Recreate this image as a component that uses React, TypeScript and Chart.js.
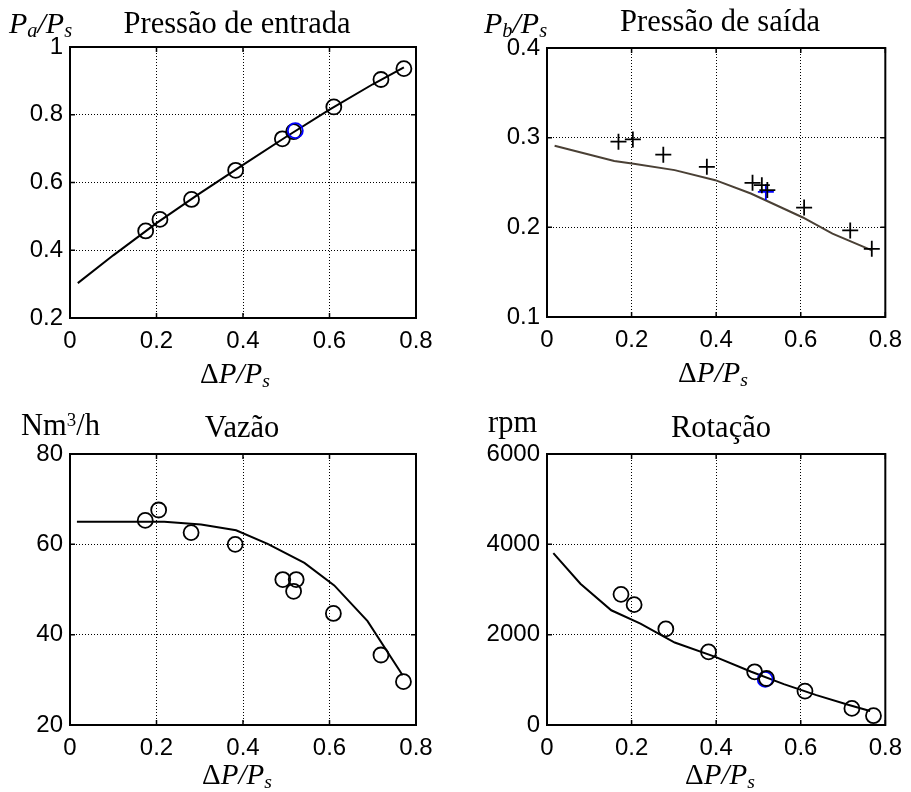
import React, { useEffect, useRef } from 'react';
import { Chart, registerables } from 'chart.js';

Chart.register(...registerables);

// ---------- shared ----------
const xTickValues = [0, 0.2, 0.4, 0.6, 0.8];

// ---------- Pressão de entrada (Pa/Ps) ----------
const entradaYTicks = [0.2, 0.4, 0.6, 0.8, 1];
const entradaExpX = [0.175, 0.208, 0.281, 0.383, 0.491, 0.517, 0.61, 0.719, 0.772];
const entradaExpY = [0.457, 0.491, 0.55, 0.636, 0.729, 0.75, 0.823, 0.904, 0.936];
const entradaBlueX = [0.521];
const entradaBlueY = [0.753];
const entradaModelX = [0.018, 0.1, 0.2, 0.3, 0.4, 0.5, 0.6, 0.7, 0.772];
const entradaModelY = [0.303, 0.385, 0.48, 0.568, 0.652, 0.735, 0.815, 0.89, 0.94];

// ---------- Pressão de saída (Pb/Ps) ----------
const saidaYTicks = [0.1, 0.2, 0.3, 0.4];
const saidaExpX = [0.169, 0.203, 0.275, 0.378, 0.486, 0.508, 0.521, 0.608, 0.717, 0.768];
const saidaExpY = [0.2955, 0.298, 0.281, 0.2675, 0.2496, 0.247, 0.2415, 0.222, 0.1966, 0.176];
const saidaBlueX = [0.5175];
const saidaBlueY = [0.2395];
const saidaModelX = [0.018, 0.159, 0.205, 0.302, 0.398, 0.482, 0.559, 0.605, 0.675, 0.767];
const saidaModelY = [0.291, 0.274, 0.271, 0.2638, 0.2526, 0.2377, 0.221, 0.211, 0.193, 0.1746];

// ---------- Vazão (Nm3/h) ----------
const vazaoYTicks = [20, 40, 60, 80];
const vazaoExpX = [0.174, 0.205, 0.28, 0.382, 0.492, 0.523, 0.517, 0.609, 0.719, 0.771];
const vazaoExpY = [65.3, 67.6, 62.6, 60.0, 52.2, 52.2, 49.6, 44.7, 35.5, 29.6];
const vazaoModelX = [0.016, 0.218, 0.303, 0.384, 0.457, 0.542, 0.611, 0.688, 0.769];
const vazaoModelY = [65, 65, 64.4, 63.1, 60.1, 55.9, 50.9, 43.0, 31.0];

// ---------- Rotação (rpm) ----------
const rotacaoYTicks = [0, 2000, 4000, 6000];
const rotacaoExpX = [0.175, 0.206, 0.281, 0.382, 0.491, 0.519, 0.61, 0.721, 0.772];
const rotacaoExpY = [2893, 2665, 2127, 1619, 1178, 1030, 751, 368, 206];
const rotacaoBlueX = [0.516];
const rotacaoBlueY = [1010];
const rotacaoModelX = [0.015, 0.079, 0.152, 0.221, 0.302, 0.398, 0.483, 0.56, 0.637, 0.714, 0.764];
const rotacaoModelY = [3806, 3128, 2540, 2245, 1826, 1509, 1178, 905, 662, 442, 309];

const SANS = '"Liberation Sans", Arial, sans-serif';
const SERIF = '"Liberation Serif", "Times New Roman", serif';
const W = 911;
const H = 792;
const YW = 60;
const XH = 40;

const pts = (xs: number[], ys: number[]) => xs.map((x, i) => ({ x, y: ys[i] }));

function circleSet(xs: number[], ys: number[], color: string) {
  return {
    data: pts(xs, ys),
    showLine: false,
    pointStyle: 'circle',
    pointRadius: 7.5,
    pointBorderWidth: 1.8,
    pointBorderColor: color,
    pointBackgroundColor: 'rgba(0,0,0,0)',
    borderColor: color,
    backgroundColor: 'rgba(0,0,0,0)',
  };
}

function crossSet(xs: number[], ys: number[], color: string) {
  return {
    data: pts(xs, ys),
    showLine: false,
    pointStyle: 'cross',
    pointRadius: 8,
    pointBorderWidth: 1.8,
    pointBorderColor: color,
    borderColor: color,
    backgroundColor: 'rgba(0,0,0,0)',
  };
}

function lineSet(xs: number[], ys: number[], color: string) {
  return {
    data: pts(xs, ys),
    showLine: true,
    pointRadius: 0,
    borderColor: color,
    borderWidth: 2,
    fill: false,
    tension: 0,
  };
}

const fmt = (v: any) => String(+Number(v).toFixed(4));

const framePlugin = {
  id: 'matlabFrame',
  afterDraw(chart: any) {
    const { ctx, chartArea, scales } = chart;
    const { left, right, top, bottom } = chartArea;
    ctx.save();
    ctx.strokeStyle = '#000';
    ctx.lineWidth = 2;
    ctx.strokeRect(left, top, right - left, bottom - top);
    const L = 5;
    ctx.lineWidth = 1.5;
    ctx.beginPath();
    scales.x.ticks.forEach((t: any) => {
      const px = scales.x.getPixelForValue(t.value);
      ctx.moveTo(px, bottom);
      ctx.lineTo(px, bottom - L);
      ctx.moveTo(px, top);
      ctx.lineTo(px, top + L);
    });
    scales.y.ticks.forEach((t: any) => {
      const py = scales.y.getPixelForValue(t.value);
      ctx.moveTo(left, py);
      ctx.lineTo(left + L, py);
      ctx.moveTo(right, py);
      ctx.lineTo(right - L, py);
    });
    ctx.stroke();
    ctx.restore();
  },
};

type Area = { left: number; right: number; top: number; bottom: number };

function buildConfig(area: Area, yMin: number, yMax: number, yTicks: number[], datasets: any[]): any {
  return {
    type: 'scatter',
    data: { datasets },
    options: {
      animation: false,
      responsive: false,
      devicePixelRatio: 1,
      events: [],
      layout: {
        padding: {
          left: area.left - YW,
          right: W - area.right,
          top: area.top,
          bottom: H - area.bottom - XH,
        },
      },
      plugins: {
        legend: { display: false },
        tooltip: { enabled: false },
        title: { display: false },
      },
      scales: {
        x: {
          type: 'linear',
          position: 'bottom',
          min: 0,
          max: 0.8,
          afterBuildTicks: (s: any) => {
            s.ticks = xTickValues.map((v) => ({ value: v }));
          },
          afterFit: (s: any) => {
            s.height = XH;
          },
          ticks: {
            callback: fmt,
            color: '#000',
            font: { family: SANS, size: 24 },
            padding: 9,
            maxRotation: 0,
            autoSkip: false,
          },
          grid: { color: '#000', lineWidth: 1, drawTicks: false },
          border: { display: false, dash: [1, 2] },
        },
        y: {
          type: 'linear',
          position: 'left',
          min: yMin,
          max: yMax,
          afterBuildTicks: (s: any) => {
            s.ticks = yTicks.map((v) => ({ value: v }));
          },
          afterFit: (s: any) => {
            s.width = YW;
          },
          ticks: {
            callback: fmt,
            color: '#000',
            font: { family: SANS, size: 24 },
            padding: 7,
            autoSkip: false,
          },
          grid: { color: '#000', lineWidth: 1, drawTicks: false },
          border: { display: false, dash: [1, 2] },
        },
      },
    },
    plugins: [framePlugin],
  };
}

const panels = [
  {
    area: { left: 70, right: 416, top: 47, bottom: 318 },
    yMin: 0.2,
    yMax: 1,
    yTicks: entradaYTicks,
    datasets: [
      circleSet(entradaBlueX, entradaBlueY, '#0000ff'),
      circleSet(entradaExpX, entradaExpY, '#000'),
      lineSet(entradaModelX, entradaModelY, '#000'),
    ],
  },
  {
    area: { left: 547, right: 893, top: 48, bottom: 317 },
    yMin: 0.1,
    yMax: 0.4,
    yTicks: saidaYTicks,
    datasets: [
      crossSet(saidaExpX, saidaExpY, '#000'),
      crossSet(saidaBlueX, saidaBlueY, '#0000ff'),
      lineSet(saidaModelX, saidaModelY, '#4a4035'),
    ],
  },
  {
    area: { left: 70, right: 416, top: 454, bottom: 725 },
    yMin: 20,
    yMax: 80,
    yTicks: vazaoYTicks,
    datasets: [
      circleSet(vazaoExpX, vazaoExpY, '#000'),
      lineSet(vazaoModelX, vazaoModelY, '#000'),
    ],
  },
  {
    area: { left: 547, right: 893, top: 454, bottom: 725 },
    yMin: 0,
    yMax: 6000,
    yTicks: rotacaoYTicks,
    datasets: [
      circleSet(rotacaoExpX, rotacaoExpY, '#000'),
      circleSet(rotacaoBlueX, rotacaoBlueY, '#0000ff'),
      lineSet(rotacaoModelX, rotacaoModelY, '#000'),
    ],
  },
];

function ChartCanvas({ panel }: { panel: any }) {
  const ref = useRef<HTMLCanvasElement | null>(null);
  useEffect(() => {
    if (!ref.current) return;
    const chart = new Chart(
      ref.current,
      buildConfig(panel.area, panel.yMin, panel.yMax, panel.yTicks, panel.datasets)
    );
    return () => chart.destroy();
  }, [panel]);
  return (
    <canvas
      ref={ref}
      width={W}
      height={H}
      style={{ position: 'absolute', left: 0, top: 0, width: W, height: H }}
    />
  );
}

// text positioned by baseline (line-height 1, Liberation Serif metrics)
function Txt({
  x,
  baseline,
  size,
  center,
  italic,
  children,
}: {
  x: number;
  baseline: number;
  size: number;
  center?: boolean;
  italic?: boolean;
  children: any;
}) {
  return (
    <div
      style={{
        position: 'absolute',
        left: x,
        top: baseline - 0.8375 * size,
        fontFamily: SERIF,
        fontSize: size,
        lineHeight: 1,
        whiteSpace: 'nowrap',
        color: '#000',
        fontStyle: italic ? 'italic' : 'normal',
        transform: center ? 'translateX(-50%)' : undefined,
      }}
    >
      {children}
    </div>
  );
}

const Sub = ({ children }: { children: any }) => (
  <span style={{ fontSize: '0.68em', position: 'relative', top: '0.22em' }}>{children}</span>
);
const Sup = ({ children }: { children: any }) => (
  <span style={{ fontSize: '0.62em', position: 'relative', top: '-0.5em' }}>{children}</span>
);

function XLabel({ x, baseline }: { x: number; baseline: number }) {
  return (
    <Txt x={x} baseline={baseline} size={29}>
      <span style={{ fontStyle: 'normal' }}>Δ</span>
      <i>P</i>
      <i>/</i>
      <i>P</i>
      <i>
        <Sub>s</Sub>
      </i>
    </Txt>
  );
}

export default function App() {
  return (
    <div
      style={{
        position: 'absolute',
        left: 0,
        top: 0,
        width: W,
        height: H,
        background: '#fff',
        overflow: 'hidden',
      }}
    >
      {panels.map((p, i) => (
        <ChartCanvas key={i} panel={p} />
      ))}

      {/* titles */}
      <Txt x={237} baseline={34} size={30.5} center>
        Pressão de entrada
      </Txt>
      <Txt x={720} baseline={32} size={30.5} center>
        Pressão de saída
      </Txt>
      <Txt x={242} baseline={438} size={30.5} center>
        Vazão
      </Txt>
      <Txt x={721} baseline={438} size={30.5} center>
        Rotação
      </Txt>

      {/* y unit labels */}
      <Txt x={9} baseline={33} size={30} italic>
        P<Sub>a</Sub>/P<Sub>s</Sub>
      </Txt>
      <Txt x={484} baseline={33} size={30} italic>
        P<Sub>b</Sub>/P<Sub>s</Sub>
      </Txt>
      <Txt x={21} baseline={436} size={30.5}>
        Nm<Sup>3</Sup>/h
      </Txt>
      <Txt x={488} baseline={433} size={30.5}>
        rpm
      </Txt>

      {/* x labels */}
      <XLabel x={200} baseline={383} />
      <XLabel x={678} baseline={382} />
      <XLabel x={202} baseline={784} />
      <XLabel x={685} baseline={784} />
    </div>
  );
}
